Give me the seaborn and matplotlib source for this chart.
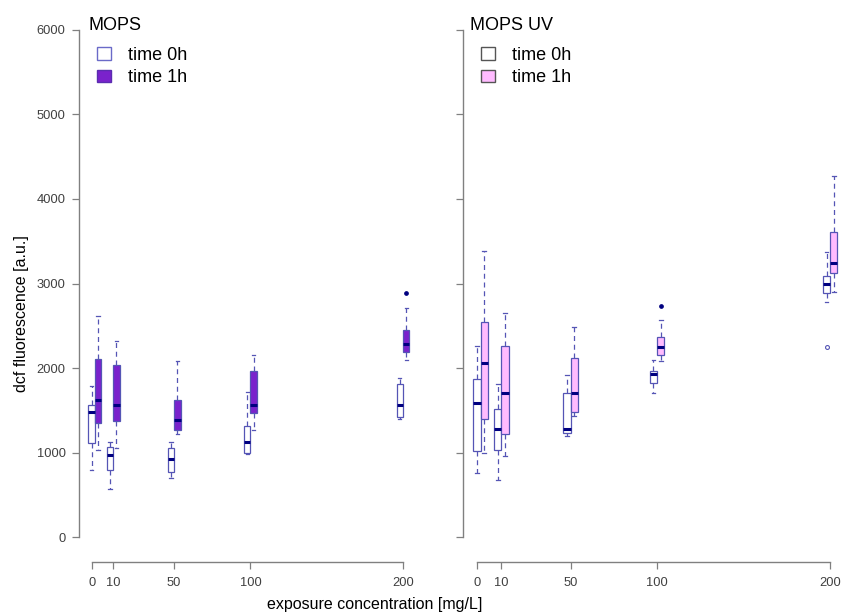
import numpy as np
import pandas as pd
import matplotlib
matplotlib.use("Agg")
import matplotlib.pyplot as plt
import seaborn as sns
from matplotlib.patches import Patch

plt.rcParams["font.family"] = ["Liberation Sans", "DejaVu Sans"]

concentrations = [0, 10, 50, 100, 200]
conc_labels = ["0", "10", "50", "100", "200"]
times = ["time 0h", "time 1h"]
panels = ["MOPS", "MOPS UV"]

# readings per concentration (0, 10, 50, 100, 200 mg/L)
mops_0h = [
    [795, 1111, 1477, 1560, 1788],
    [567, 795, 969, 1071, 1126],
    [705, 776, 929, 1059, 1126],
    [981, 993, 1123, 1315, 1717],
    [1402, 1422, 1568, 1812, 1883],
]
mops_1h = [
    [1032, 1351, 1619, 2108, 2620],
    [1059, 1378, 1560, 2040, 2324],
    [1217, 1265, 1383, 1623, 2088],
    [1268, 1470, 1568, 1966, 2159],
    [2099, 2194, 2194, 2289, 2289, 2289, 2450, 2707, 2884],
]
uv_0h = [
    [760, 1016, 1587, 1871, 2261],
    [677, 1032, 1277, 1513, 1812],
    [1197, 1237, 1284, 1702, 1922],
    [1702, 1820, 1927, 1969, 2096],
    [2246, 2781, 2892, 2940, 2994, 3040, 3089, 3200, 3369],
]
uv_1h = [
    [1000, 1395, 2060, 2541, 3388],
    [961, 1221, 1706, 2261, 2655],
    [1434, 1478, 1702, 2116, 2482],
    [2084, 2158, 2158, 2253, 2253, 2253, 2371, 2569, 2734],
    [2900, 3121, 3242, 3609, 4274],
]

rows = []
for panel, series in zip(panels, [(mops_0h, mops_1h), (uv_0h, uv_1h)]):
    for time, readings in zip(times, series):
        for conc, vals in zip(concentrations, readings):
            for v in vals:
                rows.append((panel, time, conc, v))
df = pd.DataFrame(rows, columns=["panel", "time", "conc", "value"])
# 0 mg/L is drawn a little right of its tick, as in the original
df["xpos"] = df["conc"].where(df["conc"] > 0, -2)
tick_pos = [c if c > 0 else -4 for c in concentrations]

W, H = 843, 614
fig = plt.figure(figsize=(W / 100, H / 100), dpi=100)
ax1 = fig.add_axes([79.4 / W, 56.4 / H, 336 / W, 548.2 / H])
ax2 = fig.add_axes([463 / W, 56.4 / H, 381.3 / W, 548.2 / H])

line_col = "#5555b5"
fills = {
    "MOPS": {"time 0h": "white", "time 1h": "#7a22cc"},
    "MOPS UV": {"time 0h": "white", "time 1h": "#ffbbff"},
}
fliers = {
    "time 0h": dict(marker="o", markersize=2.8, markerfacecolor="none",
                    markeredgecolor=line_col, markeredgewidth=0.8),
    "time 1h": dict(marker="o", markersize=2.4, markerfacecolor="#000080",
                    markeredgecolor="#000080"),
}

for ax, panel in zip([ax1, ax2], panels):
    for time in times:
        sub = df[(df["panel"] == panel) & (df["time"] == time)]
        sns.boxplot(data=sub, x="xpos", y="value", hue="time", hue_order=times,
                    palette=fills[panel], saturation=1, native_scale=True,
                    dodge=True, width=0.7, gap=0, linecolor=line_col,
                    linewidth=0.9,
                    whiskerprops=dict(linestyle=(0, (4, 3))),
                    medianprops=dict(color="#000080", linewidth=2.2),
                    flierprops=fliers[time], legend=False, ax=ax)
    ax.set_xlim(-12.16, 208.16)
    ax.set_ylim(-240, 6240)
    ax.set_xticks(tick_pos, conc_labels)
    ax.set_yticks(np.arange(0, 6001, 1000))
    ax.set_xlabel("")
    ax.set_ylabel("")
    for s in ["top", "right"]:
        ax.spines[s].set_visible(False)
    for s in ["left", "bottom"]:
        ax.spines[s].set_color("#808080")
        ax.spines[s].set_linewidth(1.0)
    ax.spines["left"].set_bounds(0, 6000)
    ax.spines["bottom"].set_bounds(-4, 200)
    ax.spines["bottom"].set_position(("outward", 3.3))
    ax.tick_params(axis="both", direction="out", length=5, width=0.9,
                   color="#808080", labelsize=9.3, labelcolor="#404040")
    ax.tick_params(axis="x", pad=6)
    ax.tick_params(axis="y", pad=5)

ax2.tick_params(axis="y", labelleft=False)

fig.text(88 / W, 1 - 25 / H, "MOPS", fontsize=13, va="center", ha="left")
fig.text(470 / W, 1 - 25 / H, "MOPS UV", fontsize=13, va="center", ha="left")

legend_edges = {"MOPS": ["#6a6ac8", "#5a2db0"], "MOPS UV": ["#555555", "#555555"]}
for panel, x0 in zip(panels, [97, 481]):
    handles = [Patch(facecolor=fills[panel][t], edgecolor=e, linewidth=1.0)
               for t, e in zip(times, legend_edges[panel])]
    fig.legend(handles, times, loc="upper left",
               bbox_to_anchor=(x0 / W, 1 - 47 / H), frameon=False, fontsize=13,
               handlelength=0.8, handleheight=0.7, handletextpad=0.9,
               labelspacing=0.3, borderpad=0, borderaxespad=0)

fig.text(375 / W, 1 - 604 / H, "exposure concentration [mg/L]", fontsize=11.5,
         ha="center", va="center")
fig.text(22 / W, 1 - 314 / H, "dcf fluorescence [a.u.]", fontsize=11.5,
         ha="center", va="center", rotation=90)

fig.savefig("out.png", dpi=100)
